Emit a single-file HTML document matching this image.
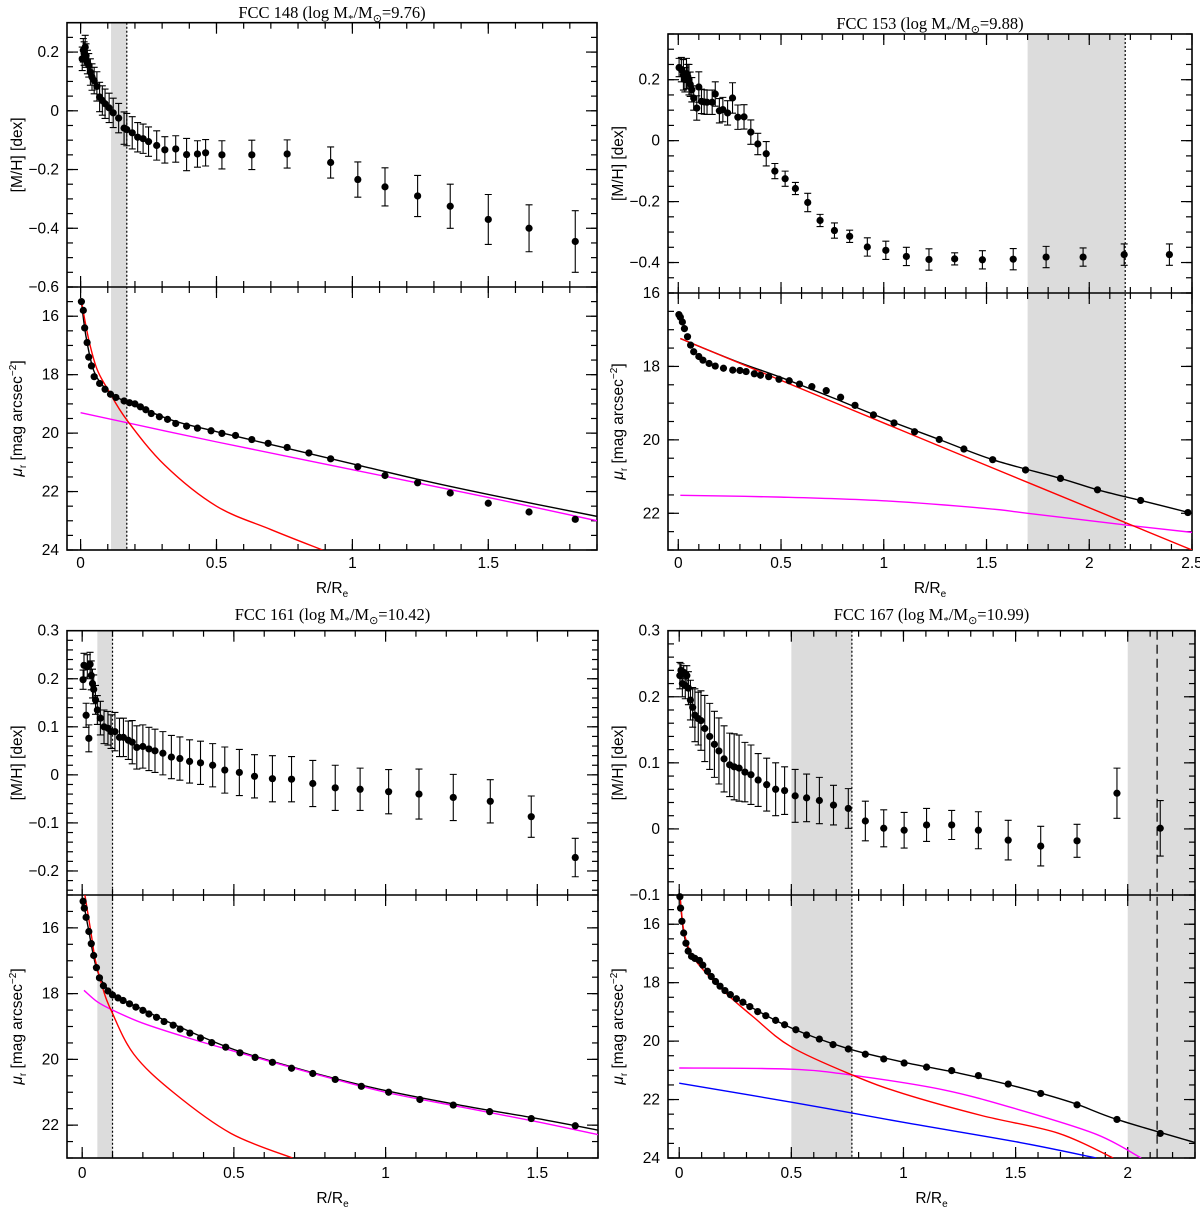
<!DOCTYPE html>
<html><head><meta charset="utf-8"><style>
html,body{margin:0;padding:0;background:#fff;}
svg{display:block;}
text{font-family:"Liberation Sans",sans-serif;font-size:15.5px;fill:#000;}
.ttl{font-family:"Liberation Serif",serif;font-size:16.5px;}
</style></head><body>
<svg id="fig" width="1200" height="1210" viewBox="0 0 1200 1210" xmlns="http://www.w3.org/2000/svg"></svg>
<script>
// ---------- DATA ----------
const p1Mh=[[0.006,0.177,0.04],[0.01,0.206,0.04],[0.013,0.195,0.04],[0.017,0.217,0.04],[0.02,0.188,0.04],[0.025,0.166,0.04],[0.03,0.155,0.04],[0.036,0.132,0.045],[0.042,0.115,0.045],[0.05,0.103,0.045],[0.06,0.083,0.05],[0.07,0.047,0.05],[0.08,0.035,0.05],[0.09,0.024,0.05],[0.105,0.01,0.05],[0.12,-0.007,0.05],[0.14,-0.025,0.05],[0.16,-0.059,0.055],[0.17,-0.064,0.055],[0.19,-0.075,0.055],[0.21,-0.09,0.05],[0.23,-0.095,0.05],[0.25,-0.105,0.05],[0.28,-0.118,0.05],[0.31,-0.133,0.045],[0.35,-0.13,0.045],[0.39,-0.149,0.055],[0.43,-0.147,0.045],[0.46,-0.143,0.045],[0.52,-0.15,0.048],[0.63,-0.15,0.05],[0.76,-0.147,0.048],[0.92,-0.176,0.053],[1.02,-0.234,0.06],[1.12,-0.259,0.065],[1.24,-0.29,0.07],[1.36,-0.325,0.075],[1.5,-0.37,0.085],[1.65,-0.4,0.08],[1.82,-0.445,0.105]];
const p1Mu=[[0.003,15.5],[0.01,15.8],[0.015,16.4],[0.024,16.9],[0.03,17.4],[0.04,17.7],[0.05,18.07],[0.07,18.3],[0.09,18.5],[0.11,18.67],[0.13,18.78],[0.16,18.9],[0.18,18.96],[0.2,19.0],[0.22,19.1],[0.24,19.2],[0.26,19.33],[0.29,19.44],[0.32,19.53],[0.35,19.67],[0.39,19.76],[0.43,19.83],[0.48,19.92],[0.52,20.01],[0.57,20.08],[0.63,20.22],[0.69,20.35],[0.76,20.49],[0.84,20.68],[0.92,20.88],[1.02,21.15],[1.12,21.45],[1.24,21.7],[1.36,22.05],[1.5,22.4],[1.65,22.7],[1.82,22.95]];
const p1Tot=[[0.003,15.5],[0.02,16.7],[0.05,17.9],[0.1,18.55],[0.17,18.95],[0.25,19.25],[0.35,19.6],[0.5,19.95],[0.75,20.5],[1,21.05],[1.25,21.6],[1.5,22.1],[1.9,22.85]];
const p1Bulge=[[0.003,15.5],[0.03,16.8],[0.06,17.8],[0.1,18.5],[0.17,19.55],[0.31,21.1],[0.5,22.5],[0.7,23.3],[0.89,24]];
const p1Disk=[[0,19.3],[0.5,20.3],[1,21.25],[1.5,22.2],[1.9,23.0]];

const p2Mh=[[0.004,0.24,0.03],[0.015,0.233,0.04],[0.025,0.216,0.05],[0.032,0.2,0.04],[0.04,0.22,0.05],[0.046,0.21,0.04],[0.052,0.2,0.05],[0.058,0.185,0.04],[0.066,0.167,0.04],[0.075,0.14,0.04],[0.09,0.107,0.04],[0.1,0.176,0.05],[0.113,0.129,0.04],[0.126,0.127,0.04],[0.14,0.126,0.04],[0.165,0.126,0.04],[0.18,0.153,0.04],[0.2,0.098,0.04],[0.217,0.102,0.04],[0.24,0.091,0.04],[0.264,0.14,0.05],[0.29,0.077,0.04],[0.32,0.078,0.04],[0.353,0.028,0.04],[0.387,-0.011,0.035],[0.428,-0.043,0.04],[0.47,-0.1,0.025],[0.52,-0.125,0.025],[0.57,-0.157,0.02],[0.63,-0.203,0.03],[0.69,-0.262,0.02],[0.76,-0.295,0.025],[0.834,-0.314,0.02],[0.92,-0.349,0.03],[1.01,-0.36,0.03],[1.11,-0.38,0.03],[1.22,-0.39,0.035],[1.345,-0.388,0.02],[1.48,-0.391,0.03],[1.63,-0.389,0.035],[1.79,-0.382,0.035],[1.97,-0.382,0.03],[2.17,-0.374,0.035],[2.39,-0.374,0.035]];
const p2Mu=[[0.003,16.59],[0.01,16.66],[0.02,16.79],[0.03,16.97],[0.045,17.19],[0.06,17.42],[0.075,17.6],[0.1,17.73],[0.12,17.83],[0.15,17.92],[0.18,17.99],[0.22,18.05],[0.265,18.1],[0.3,18.11],[0.33,18.14],[0.37,18.2],[0.4,18.24],[0.44,18.28],[0.49,18.35],[0.54,18.39],[0.59,18.48],[0.65,18.55],[0.72,18.66],[0.79,18.84],[0.86,19.06],[0.95,19.32],[1.05,19.54],[1.15,19.78],[1.27,19.99],[1.39,20.25],[1.53,20.54],[1.69,20.82],[1.86,21.05],[2.04,21.36],[2.25,21.65],[2.48,21.98]];
const p2Tot=[[0.01,17.24],[0.1,17.45],[0.3,17.9],[0.5,18.3],[0.75,18.85],[1,19.42],[1.27,19.99],[1.53,20.54],[1.86,21.05],[2.04,21.36],[2.25,21.65],[2.5,22.0]];
const p2Bulge=[[0.01,17.24],[1.25,20.12],[2.5,23.0]];
const p2Disk=[[0.01,21.51],[0.5,21.56],[1,21.66],[1.5,21.87],[1.7,22.0],[2.18,22.32],[2.5,22.52]];

const p3Mh=[[0.003,0.198,0.02],[0.006,0.228,0.025],[0.013,0.124,0.025],[0.017,0.225,0.025],[0.022,0.076,0.028],[0.026,0.23,0.025],[0.03,0.207,0.03],[0.034,0.19,0.03],[0.038,0.178,0.03],[0.044,0.156,0.03],[0.05,0.135,0.03],[0.06,0.118,0.035],[0.072,0.1,0.035],[0.085,0.097,0.035],[0.095,0.09,0.035],[0.108,0.09,0.04],[0.123,0.078,0.04],[0.136,0.078,0.04],[0.152,0.072,0.04],[0.165,0.068,0.045],[0.18,0.057,0.045],[0.2,0.059,0.045],[0.22,0.054,0.045],[0.24,0.05,0.045],[0.266,0.045,0.045],[0.294,0.037,0.045],[0.322,0.034,0.045],[0.354,0.028,0.045],[0.39,0.025,0.045],[0.43,0.02,0.045],[0.47,0.01,0.048],[0.518,0.005,0.048],[0.568,-0.003,0.045],[0.627,-0.008,0.048],[0.69,-0.009,0.047],[0.76,-0.018,0.048],[0.834,-0.027,0.047],[0.916,-0.03,0.044],[1.01,-0.035,0.046],[1.11,-0.04,0.052],[1.223,-0.047,0.048],[1.345,-0.055,0.045],[1.48,-0.087,0.043],[1.625,-0.172,0.04]];
const p3Mu=[[0.003,15.19],[0.007,15.4],[0.013,15.68],[0.022,16.11],[0.03,16.48],[0.038,16.84],[0.047,17.21],[0.057,17.52],[0.07,17.76],[0.085,17.92],[0.1,18.04],[0.118,18.13],[0.135,18.21],[0.156,18.31],[0.177,18.41],[0.2,18.51],[0.22,18.62],[0.245,18.72],[0.27,18.85],[0.3,18.96],[0.323,19.08],[0.355,19.2],[0.39,19.35],[0.427,19.49],[0.473,19.63],[0.52,19.8],[0.57,19.94],[0.627,20.09],[0.69,20.27],[0.76,20.43],[0.834,20.61],[0.92,20.82],[1.01,21.0],[1.113,21.22],[1.223,21.39],[1.343,21.59],[1.48,21.8],[1.625,22.02]];
const p3Tot=[[0.003,15.15],[0.02,16.0],[0.05,17.3],[0.1,18.0],[0.2,18.48],[0.3,18.93],[0.5,19.7],[0.75,20.38],[1,20.95],[1.25,21.4],[1.5,21.8],[1.7,22.15]];
const p3Bulge=[[0.009,15.0],[0.03,16.2],[0.044,17.0],[0.07,17.9],[0.095,18.5],[0.17,19.84],[0.3,21.0],[0.49,22.25],[0.693,23.0]];
const p3Disk=[[0.006,17.9],[0.05,18.25],[0.1,18.5],[0.2,18.9],[0.35,19.35],[0.5,19.75],[0.75,20.4],[1,21.0],[1.25,21.45],[1.5,21.9],[1.7,22.29]];

const p4Mh=[[0.003,0.232,0.02],[0.008,0.24,0.01],[0.014,0.22,0.02],[0.02,0.237,0.01],[0.027,0.217,0.02],[0.034,0.232,0.015],[0.041,0.213,0.025],[0.05,0.195,0.03],[0.06,0.184,0.03],[0.07,0.172,0.04],[0.085,0.167,0.04],[0.097,0.164,0.045],[0.114,0.152,0.05],[0.136,0.14,0.05],[0.157,0.128,0.05],[0.177,0.118,0.05],[0.2,0.106,0.05],[0.225,0.097,0.048],[0.245,0.094,0.05],[0.267,0.092,0.05],[0.293,0.086,0.045],[0.32,0.082,0.045],[0.352,0.074,0.04],[0.39,0.067,0.04],[0.43,0.06,0.04],[0.47,0.058,0.036],[0.517,0.05,0.04],[0.568,0.047,0.036],[0.625,0.043,0.035],[0.688,0.036,0.03],[0.754,0.031,0.03],[0.83,0.012,0.03],[0.912,0.001,0.028],[1.003,-0.002,0.027],[1.103,0.006,0.025],[1.215,0.006,0.022],[1.334,-0.002,0.028],[1.467,-0.017,0.03],[1.612,-0.026,0.03],[1.774,-0.018,0.025],[1.952,0.054,0.038],[2.145,0.001,0.042]];
const p4Mu=[[0.003,15.06],[0.006,15.45],[0.012,15.9],[0.02,16.3],[0.03,16.65],[0.04,16.92],[0.055,17.1],[0.07,17.17],[0.09,17.24],[0.105,17.4],[0.126,17.61],[0.143,17.79],[0.162,17.96],[0.182,18.12],[0.204,18.27],[0.228,18.41],[0.255,18.55],[0.284,18.67],[0.315,18.82],[0.35,18.99],[0.386,19.13],[0.43,19.29],[0.47,19.44],[0.52,19.61],[0.568,19.79],[0.625,19.93],[0.686,20.12],[0.754,20.27],[0.83,20.45],[0.912,20.61],[1.003,20.75],[1.103,20.89],[1.215,21.01],[1.334,21.18],[1.467,21.47],[1.612,21.79],[1.774,22.18],[1.952,22.68],[2.145,23.16]];
const p4Tot=[[0.003,15.0],[0.02,16.3],[0.05,17.0],[0.1,17.35],[0.2,18.25],[0.3,18.75],[0.5,19.55],[0.75,20.25],[1,20.72],[1.25,21.1],[1.5,21.55],[1.75,22.1],[1.952,22.68],[2.3,23.47]];
const p4Bulge=[[0.003,15.0],[0.02,16.2],[0.05,16.95],[0.1,17.5],[0.2,18.3],[0.327,19.15],[0.5,20.2],[0.775,21.17],[1,21.8],[1.35,22.55],[1.69,23.15],[1.935,24]];
const p4Disk=[[0,20.92],[0.5,20.96],[0.775,21.17],[1.18,21.67],[1.52,22.36],[1.86,23.19],[2.06,24]];
const p4Halo=[[0,21.44],[0.5,22.09],[1,22.78],[1.52,23.47],[1.86,24]];

// ---------- LAYOUT ----------
const panels=[
 {id:'fcc148',title:'FCC 148 (log M',mass:'9.76',x0:67,x1:597,xr:[-0.05,1.9],yt:22.7,ym:287,yb:550,tr:[-0.6,0.3],br:[15,24],tMaj:0.2,tMin:0.05,ty:13,lab:563,xt:588,
  mh:p1Mh,mu:p1Mu,curves:[[p1Tot,'#000'],[p1Disk,'#ff00ff'],[p1Bulge,'#ff0000']],shades:[[0.112,0.17]],vl:[[0.17,'2,2']],tLabels:[0.2,0,-0.2,-0.4,-0.6],bLabels:[16,18,20,22,24],xLabels:[0,0.5,1,1.5]},
 {id:'fcc153',title:'FCC 153 (log M',mass:'9.88',x0:668,x1:1192,xr:[-0.05,2.5],yt:34,ym:293,yb:550,tr:[-0.5,0.35],br:[16,23],tMaj:0.2,tMin:0.05,ty:24,lab:563,xt:588,
  mh:p2Mh,mu:p2Mu,curves:[[p2Tot,'#000'],[p2Disk,'#ff00ff'],[p2Bulge,'#ff0000']],shades:[[1.7,2.175]],vl:[[2.175,'2,2']],tLabels:[0.2,0,-0.2,-0.4],bLabels:[16,18,20,22],xLabels:[0,0.5,1,1.5,2,2.5]},
 {id:'fcc161',title:'FCC 161 (log M',mass:'10.42',x0:67,x1:598,xr:[-0.05,1.7],yt:630.7,ym:895,yb:1158,tr:[-0.25,0.3],br:[15,23],tMaj:0.1,tMin:0.02,ty:615,lab:1173,xt:1198,
  mh:p3Mh,mu:p3Mu,curves:[[p3Tot,'#000'],[p3Disk,'#ff00ff'],[p3Bulge,'#ff0000']],shades:[[0.05,0.1]],vl:[[0.1,'2,2']],tLabels:[0.3,0.2,0.1,0,-0.1,-0.2],bLabels:[16,18,20,22],xLabels:[0,0.5,1,1.5]},
 {id:'fcc167',title:'FCC 167 (log M',mass:'10.99',x0:668,x1:1195,xr:[-0.05,2.3],yt:630.7,ym:895,yb:1158,tr:[-0.1,0.3],br:[15,24],tMaj:0.1,tMin:0.02,ty:615,lab:1173,xt:1198,
  mh:p4Mh,mu:p4Mu,curves:[[p4Tot,'#000'],[p4Disk,'#ff00ff'],[p4Bulge,'#ff0000'],[p4Halo,'#0000ff']],shades:[[0.5,0.77],[2.0,2.3]],vl:[[0.77,'2,2'],[2.131,'9,5']],tLabels:[0.3,0.2,0.1,0,-0.1],bLabels:[16,18,20,22,24],xLabels:[0,0.5,1,1.5,2]}
];

const NS='http://www.w3.org/2000/svg';
const svg=document.getElementById('fig');
function mk(tag,attrs,parent){const e=document.createElementNS(NS,tag);for(const k in attrs)e.setAttribute(k,attrs[k]);(parent||svg).appendChild(e);return e;}
function fmt(v){let s=(Math.abs(v)<1e-9)?'0':String(+v.toFixed(2));return s.replace('-','\u2212');}
function smooth(pts){ // Catmull-Rom to cubic Bezier
  let d='M'+pts[0][0]+','+pts[0][1];
  for(let i=0;i<pts.length-1;i++){
    const p0=pts[Math.max(0,i-1)],p1=pts[i],p2=pts[i+1],p3=pts[Math.min(pts.length-1,i+2)];
    const c1=[p1[0]+(p2[0]-p0[0])/6,p1[1]+(p2[1]-p0[1])/6],c2=[p2[0]-(p3[0]-p1[0])/6,p2[1]-(p3[1]-p1[1])/6];
    d+=`C${c1[0]},${c1[1]} ${c2[0]},${c2[1]} ${p2[0]},${p2[1]}`;
  }
  return d;
}

panels.forEach(p=>{
  const g=mk('g',{});
  
  
  const sx=x=>p.x0+(x-p.xr[0])/(p.xr[1]-p.xr[0])*(p.x1-p.x0);
  const syT=y=>p.ym-(y-p.tr[0])/(p.tr[1]-p.tr[0])*(p.ym-p.yt);
  const syB=y=>p.ym+(y-p.br[0])/(p.br[1]-p.br[0])*(p.yb-p.ym);
  p.shades.forEach(s=>{
    const r=mk('rect',{x:sx(s[0]),y:p.yt,width:sx(Math.min(s[1],p.xr[1]))-sx(s[0]),height:p.yb-p.yt,fill:'#dcdcdc'},g);
    
    
  });
  p.vl.forEach(v=>{
    const l=mk('line',{x1:sx(v[0]),x2:sx(v[0]),y1:p.yt,y2:p.yb,stroke:'#000','stroke-width':1.2,'stroke-dasharray':v[1]},g);
    
    
  });
  const tk=mk('g',{stroke:'#000','stroke-width':1.2},g);
  
  
  function xt(step,len){const a=Math.ceil(p.xr[0]/step-1e-6),b=Math.floor(p.xr[1]/step+1e-6);for(let i=a;i<=b;i++){const X=sx(i*step);
    [[p.yt,1],[p.ym,-1],[p.ym,1],[p.yb,-1]].forEach(q=>mk('line',{x1:X,x2:X,y1:q[0],y2:q[0]+q[1]*len},tk));}}
  xt(0.5,11);xt(0.1,6);
  function yt(rng,sy,step,len){const a=Math.ceil(rng[0]/step-1e-6),b=Math.floor(rng[1]/step+1e-6);for(let i=a;i<=b;i++){const Y=sy(i*step);
    mk('line',{x1:p.x0,x2:p.x0+len,y1:Y,y2:Y},tk);mk('line',{x1:p.x1,x2:p.x1-len,y1:Y,y2:Y},tk);}}
  yt(p.tr,syT,p.tMaj,11);yt(p.tr,syT,p.tMin,6);
  yt(p.br,syB,2,11);yt(p.br,syB,0.5,6);
  const fr=mk('rect',{x:p.x0,y:p.yt,width:p.x1-p.x0,height:p.yb-p.yt,fill:'none',stroke:'#000','stroke-width':1.6},g);
  
  
  const dv=mk('line',{x1:p.x0,x2:p.x1,y1:p.ym,y2:p.ym,stroke:'#000','stroke-width':1.6},g);
  
  
  const clip=mk('clipPath',{id:'c'+p.id},g);
  mk('rect',{x:p.x0,y:p.ym,width:p.x1-p.x0,height:p.yb-p.ym},clip);
  p.curves.forEach(c=>{
    const pl=mk('path',{d:smooth(c[0].map(q=>[sx(q[0]),syB(q[1])])),fill:'none',stroke:c[1],'stroke-width':1.4,'clip-path':'url(#c'+p.id+')'},g);
    
    
  });
  p.mh.forEach(d=>{
    const X=sx(d[0]),Y=syT(d[1]),Y1=syT(d[1]+d[2]),Y2=syT(d[1]-d[2]);
    const eb=mk('path',{d:`M${X},${Y1}V${Y2}M${X-3.5},${Y1}H${X+3.5}M${X-3.5},${Y2}H${X+3.5}`,stroke:'#000','stroke-width':1.1,fill:'none'},g);
    
    
    const c=mk('circle',{cx:X,cy:Y,r:3.6,fill:'#000'},g);
    
    
  });
  p.mu.forEach(d=>{
    const c=mk('circle',{cx:sx(d[0]),cy:syB(d[1]),r:3.6,fill:'#000'},g);
    
    
  });
  p.tLabels.forEach(v=>{const t=mk('text',{x:p.x0-8,y:syT(v)+5,'text-anchor':'end'},g);t.textContent=fmt(v);
    
    });
  p.bLabels.forEach(v=>{const t=mk('text',{x:p.x0-8,y:syB(v)+5,'text-anchor':'end'},g);t.textContent=fmt(v);
    
    });
  p.xLabels.forEach(v=>{const t=mk('text',{x:sx(v),y:p.lab+5,'text-anchor':'middle'},g);t.textContent=fmt(v);
    
    });
  const xl=mk('text',{x:(p.x0+p.x1)/2,y:p.xt+5,'text-anchor':'middle'},g);
  xl.innerHTML='R/R<tspan dy="4" font-size="10">e</tspan>';
  
  
  const ylx=p.x0-45;
  const y1=mk('text',{x:ylx,y:(p.yt+p.ym)/2,'text-anchor':'middle',transform:`rotate(-90 ${ylx} ${(p.yt+p.ym)/2})`},g);
  y1.textContent='[M/H] [dex]';
  
  
  const yc=(p.ym+p.yb)/2;
  const y2=mk('text',{x:ylx,y:yc,'text-anchor':'middle',transform:`rotate(-90 ${ylx} ${yc})`},g);
  y2.innerHTML='<tspan font-style="italic">μ</tspan><tspan dy="4" font-size="10">r</tspan><tspan dy="-4"> [mag arcsec</tspan><tspan dy="-6" font-size="10">−2</tspan><tspan dy="6">]</tspan>';
  
  
  const tt=mk('text',{x:(p.x0+p.x1)/2,y:p.ty+5,'text-anchor':'middle',class:'ttl'},g);
  tt.innerHTML=p.title+'<tspan dy="4" font-size="11">*</tspan><tspan dy="-4">/M</tspan><tspan dy="4" font-size="11">⊙</tspan><tspan dy="-4">='+p.mass+')</tspan>';
  
  
});
</script>
</body></html>
